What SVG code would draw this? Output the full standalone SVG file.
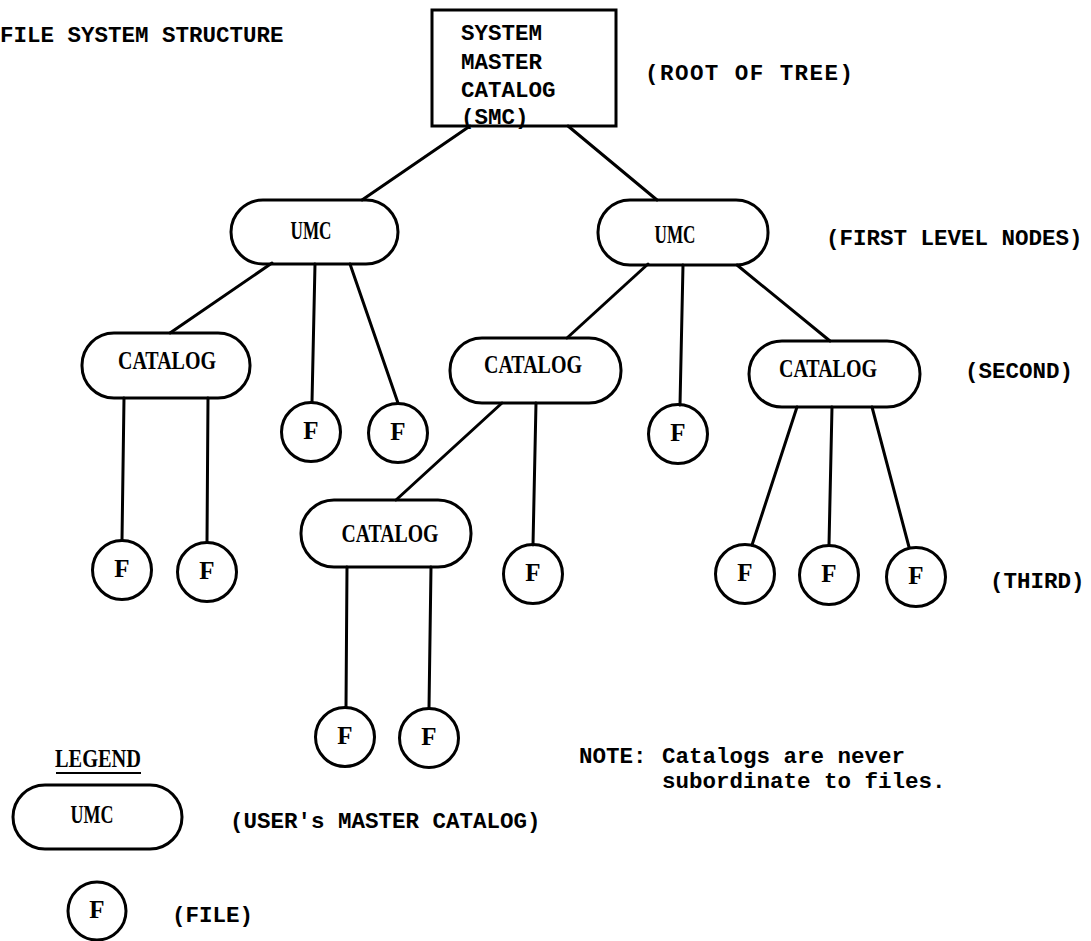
<svg xmlns="http://www.w3.org/2000/svg" width="1091" height="941" viewBox="0 0 1091 941">
<style>
.shape{fill:none;stroke:#000;stroke-width:3}
.edge{stroke:#000;stroke-width:3;fill:none;stroke-linecap:round}
.mono{font-family:"Liberation Mono","Courier New",monospace;font-weight:bold;font-size:22.5px;fill:#000}
.lbl{font-family:"Liberation Serif","Times New Roman",serif;font-weight:bold;font-size:25px;fill:#000;text-anchor:middle}
</style>
<rect width="1091" height="941" fill="#fff"/>
<text class="mono" x="0" y="42">FILE SYSTEM STRUCTURE</text>
<g id="smc">
<rect class="shape" x="432" y="10" width="184" height="116"/>
<text class="mono" x="461" y="40">SYSTEM</text>
<text class="mono" x="461" y="69">MASTER</text>
<text class="mono" x="461" y="97">CATALOG</text>
<text class="mono" x="461" y="124">(SMC)</text>
</g>
<text class="mono" x="645" y="80" textLength="208">(ROOT OF TREE)</text>
<text class="mono" x="826" y="245">(FIRST LEVEL NODES)</text>
<text class="mono" x="965" y="378">(SECOND)</text>
<text class="mono" x="990" y="588">(THIRD)</text>
<g id="connectors">
<line class="edge" x1="470" y1="126" x2="362" y2="200"/>
<line class="edge" x1="568" y1="126" x2="657" y2="200"/>
<line class="edge" x1="272" y1="263" x2="170" y2="333"/>
<line class="edge" x1="315" y1="264" x2="312" y2="402"/>
<line class="edge" x1="350" y1="264" x2="398" y2="403"/>
<line class="edge" x1="648" y1="264" x2="567" y2="338"/>
<line class="edge" x1="683" y1="265" x2="680" y2="405"/>
<line class="edge" x1="737" y1="265" x2="830" y2="341"/>
<line class="edge" x1="124" y1="398" x2="122" y2="540"/>
<line class="edge" x1="208" y1="398" x2="207" y2="542"/>
<line class="edge" x1="502" y1="403" x2="396" y2="500"/>
<line class="edge" x1="536" y1="403" x2="533" y2="545"/>
<line class="edge" x1="797" y1="407" x2="752" y2="545"/>
<line class="edge" x1="832" y1="407" x2="829" y2="545"/>
<line class="edge" x1="872" y1="407" x2="909" y2="547"/>
<line class="edge" x1="347" y1="567" x2="346" y2="707"/>
<line class="edge" x1="431" y1="567" x2="429" y2="708"/>
</g>
<g id="umc-left"><rect class="shape" x="231" y="200" width="167" height="64" rx="32"/><text class="lbl" x="311" y="239" textLength="41" lengthAdjust="spacingAndGlyphs">UMC</text></g>
<g id="umc-right"><rect class="shape" x="598" y="200" width="170" height="65" rx="32"/><text class="lbl" x="675" y="243" textLength="41" lengthAdjust="spacingAndGlyphs">UMC</text></g>
<g id="catalog-left"><rect class="shape" x="82" y="333" width="168" height="65" rx="32"/><text class="lbl" x="167" y="369" textLength="98" lengthAdjust="spacingAndGlyphs">CATALOG</text></g>
<g id="catalog-mid"><rect class="shape" x="450" y="338" width="171" height="65" rx="32"/><text class="lbl" x="533" y="373" textLength="98" lengthAdjust="spacingAndGlyphs">CATALOG</text></g>
<g id="catalog-right"><rect class="shape" x="749" y="341" width="171" height="66" rx="33"/><text class="lbl" x="828" y="377" textLength="98" lengthAdjust="spacingAndGlyphs">CATALOG</text></g>
<g id="catalog-low"><rect class="shape" x="301" y="500" width="170" height="67" rx="33"/><text class="lbl" x="390" y="542" textLength="97" lengthAdjust="spacingAndGlyphs">CATALOG</text></g>
<g id="f-ul1"><circle class="shape" cx="311" cy="432" r="29.5"/><text class="lbl" x="311" y="439">F</text></g>
<g id="f-ul2"><circle class="shape" cx="398" cy="433" r="29.5"/><text class="lbl" x="398" y="440">F</text></g>
<g id="f-ur"><circle class="shape" cx="678" cy="434" r="29.5"/><text class="lbl" x="678" y="441">F</text></g>
<g id="f-cl1"><circle class="shape" cx="122" cy="570" r="29.5"/><text class="lbl" x="122" y="577">F</text></g>
<g id="f-cl2"><circle class="shape" cx="207" cy="572" r="29.5"/><text class="lbl" x="207" y="579">F</text></g>
<g id="f-cm"><circle class="shape" cx="533" cy="574" r="29.5"/><text class="lbl" x="533" y="581">F</text></g>
<g id="f-cr1"><circle class="shape" cx="745" cy="574" r="29.5"/><text class="lbl" x="745" y="581">F</text></g>
<g id="f-cr2"><circle class="shape" cx="829" cy="575" r="29.5"/><text class="lbl" x="829" y="582">F</text></g>
<g id="f-cr3"><circle class="shape" cx="916" cy="577" r="29.5"/><text class="lbl" x="916" y="584">F</text></g>
<g id="f-low1"><circle class="shape" cx="345" cy="737" r="29.5"/><text class="lbl" x="345" y="744">F</text></g>
<g id="f-low2"><circle class="shape" cx="429" cy="738" r="29.5"/><text class="lbl" x="429" y="745">F</text></g>
<g id="legend">
<text class="lbl" x="98" y="767" textLength="86" lengthAdjust="spacingAndGlyphs">LEGEND</text>
<line x1="56" y1="773" x2="141" y2="773" stroke="#000" stroke-width="2"/>
<rect class="shape" x="13" y="785" width="169" height="64" rx="32"/>
<text class="lbl" x="92" y="823" textLength="43" lengthAdjust="spacingAndGlyphs">UMC</text>
<text class="mono" x="230" y="828">(USER's MASTER CATALOG)</text>
<circle class="shape" cx="97" cy="911" r="29"/>
<text class="lbl" x="97" y="918">F</text>
<text class="mono" x="172" y="922">(FILE)</text>
</g>
<g id="note">
<text class="mono" x="579" y="763">NOTE:</text>
<text class="mono" x="662" y="763">Catalogs are never</text>
<text class="mono" x="662" y="788">subordinate to files.</text>
</g>
</svg>
